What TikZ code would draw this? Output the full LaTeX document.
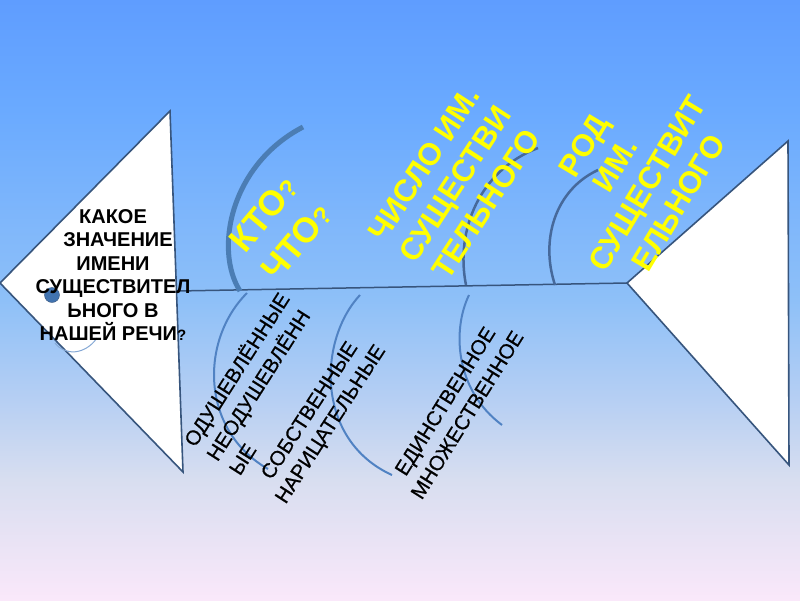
\documentclass[tikz,border=0pt]{standalone}
\usepackage{fontspec}
\setmainfont{Liberation Sans}
\newfontfamily\halbfett[FakeBold=0.6]{Liberation Sans}
\usetikzlibrary{calc}
\definecolor{linie}{RGB}{55,85,125}
\definecolor{graet}{RGB}{75,125,180}
\definecolor{graetd}{RGB}{70,105,155}
\definecolor{graeth}{RGB}{80,130,195}
\definecolor{auge}{RGB}{65,115,175}
\definecolor{gelb}{RGB}{255,255,0}
\definecolor{hg1}{RGB}{250,232,250}
\definecolor{hg2}{RGB}{216,222,240}
\definecolor{hg3}{RGB}{182,207,243}
\definecolor{hg4}{RGB}{142,192,248}
\definecolor{hg5}{RGB}{106,170,255}
\definecolor{hg6}{RGB}{95,157,255}
\pgfdeclareverticalshading{hg}{100bp}{color(0bp)=(hg1); color(25bp)=(hg1); color(35bp)=(hg2); color(41.7bp)=(hg3); color(50bp)=(hg4); color(65.8bp)=(hg5); color(75bp)=(hg6); color(100bp)=(hg6)}

\begin{document}
\begin{tikzpicture}[x=1pt,y=-1pt,
	rand/.style={draw=linie,line width=1.6pt,fill=white,line join=miter},
	duenn/.style={draw=graetd,line width=2.5pt},
	unten/.style={draw=graeth,line width=2pt},
	gelbtext/.style={gelb,align=center,font=\fontsize{31}{37}\selectfont\bfseries},
	schwarztext/.style={black,align=center,font=\halbfett\fontsize{20.5}{25}\selectfont}] % Fisch: Kopf links, Schwanz rechts
	\shade[shading=hg] (0,0) rectangle (800,600);
	\useasboundingbox (0,0) rectangle (800,600);
	
	\coordinate (KS) at (0,283);
	\coordinate (KO) at (170,111);
	\coordinate (KU) at (183,472);
	\coordinate (SS) at (627,283);
	\coordinate (SO) at (788,141);
	\coordinate (SU) at (789,465);
	\coordinate (R1) at (177,291);
	\draw[linie,line width=1.5pt] (R1) -- (SS);
	\draw[rand] (KS) -- (KO) -- (KU) -- cycle;
	\draw[rand] (SS) -- (SO) -- (SU) -- cycle;
	
	\node[draw=linie,fill=auge,circle,inner sep=0pt,minimum size=15pt] (A) at (52,295) {};
	\coordinate (M1) at (55,343);
	\coordinate (M2) at (97,338);
	\draw[graeth!70,line width=1pt] (M1) .. controls (65,356) and (85,355) .. (M2);
	
	\coordinate (O1) at (240,291);
	\coordinate (O1e) at (303,127);
	\draw[draw=graet,line width=5pt] (O1) .. controls (214,250) and (230,165) .. (O1e);
	\coordinate (O2) at (466,285);
	\coordinate (O2e) at (538,148);
	\draw[duenn] (O2) .. controls (455,230) and (480,170) .. (O2e);
	\coordinate (O3) at (555,285);
	\coordinate (O3e) at (598,170);
	\draw[duenn] (O3) .. controls (540,240) and (555,190) .. (O3e);
	
	\coordinate (U1) at (247,293);
	\coordinate (U1e) at (268,469);
	\draw[unten] (U1) .. controls (200,340) and (200,430) .. (U1e);
	\coordinate (U2) at (360,295);
	\coordinate (U2e) at (392,475);
	\draw[unten] (U2) .. controls (318,340) and (315,440) .. (U2e);
	\coordinate (U3) at (469,295);
	\coordinate (U3e) at (502,425);
	\draw[unten] (U3) .. controls (452,330) and (455,390) .. (U3e);
	
	\node[align=center,font=\fontsize{20}{23.5}\selectfont\bfseries] (F) at (113,275)
		{КАКОЕ\\\hspace*{10pt}ЗНАЧЕНИЕ\\ИМЕНИ\\СУЩЕСТВИТЕЛ\\ЬНОГО В\hspace*{10pt}\\НАШЕЙ РЕЧИ{\fontsize{15}{15}\selectfont ?}};
	
	\node[gelbtext,rotate=50,font=\fontsize{35}{43}\selectfont\bfseries] (W1) at (280,228)
		{КТО{\fontsize{25}{25}\selectfont ?}\\ЧТО{\fontsize{25}{25}\selectfont ?}};
	\node[gelbtext,rotate=57] (W2) at (455,184) {ЧИСЛО ИМ.\\СУЩЕСТВИ\\ТЕЛЬНОГО};
	\node[gelbtext,rotate=59] (W3) at (631,174) {РОД\\ИМ.\\СУЩЕСТВИТ\\ЕЛЬНОГО};
	
	\node[schwarztext,align=left,rotate=57.5,font=\halbfett\fontsize{20.5}{26.5}\selectfont] (G1) at (258,383)
		{ОДУШЕВЛЁННЫЕ\\НЕОДУШЕВЛЁНН\\ЫЕ};
	\node[schwarztext,rotate=57] (G2) at (321,418) {СОБСТВЕННЫЕ\\НАРИЦАТЕЛЬНЫЕ};
	\node[schwarztext,rotate=58,font=\halbfett\fontsize{20.5}{26}\selectfont] (G3) at (456,408) {ЕДИНСТВЕННОЕ\\МНОЖЕСТВЕННОЕ};
\end{tikzpicture}
\end{document}
